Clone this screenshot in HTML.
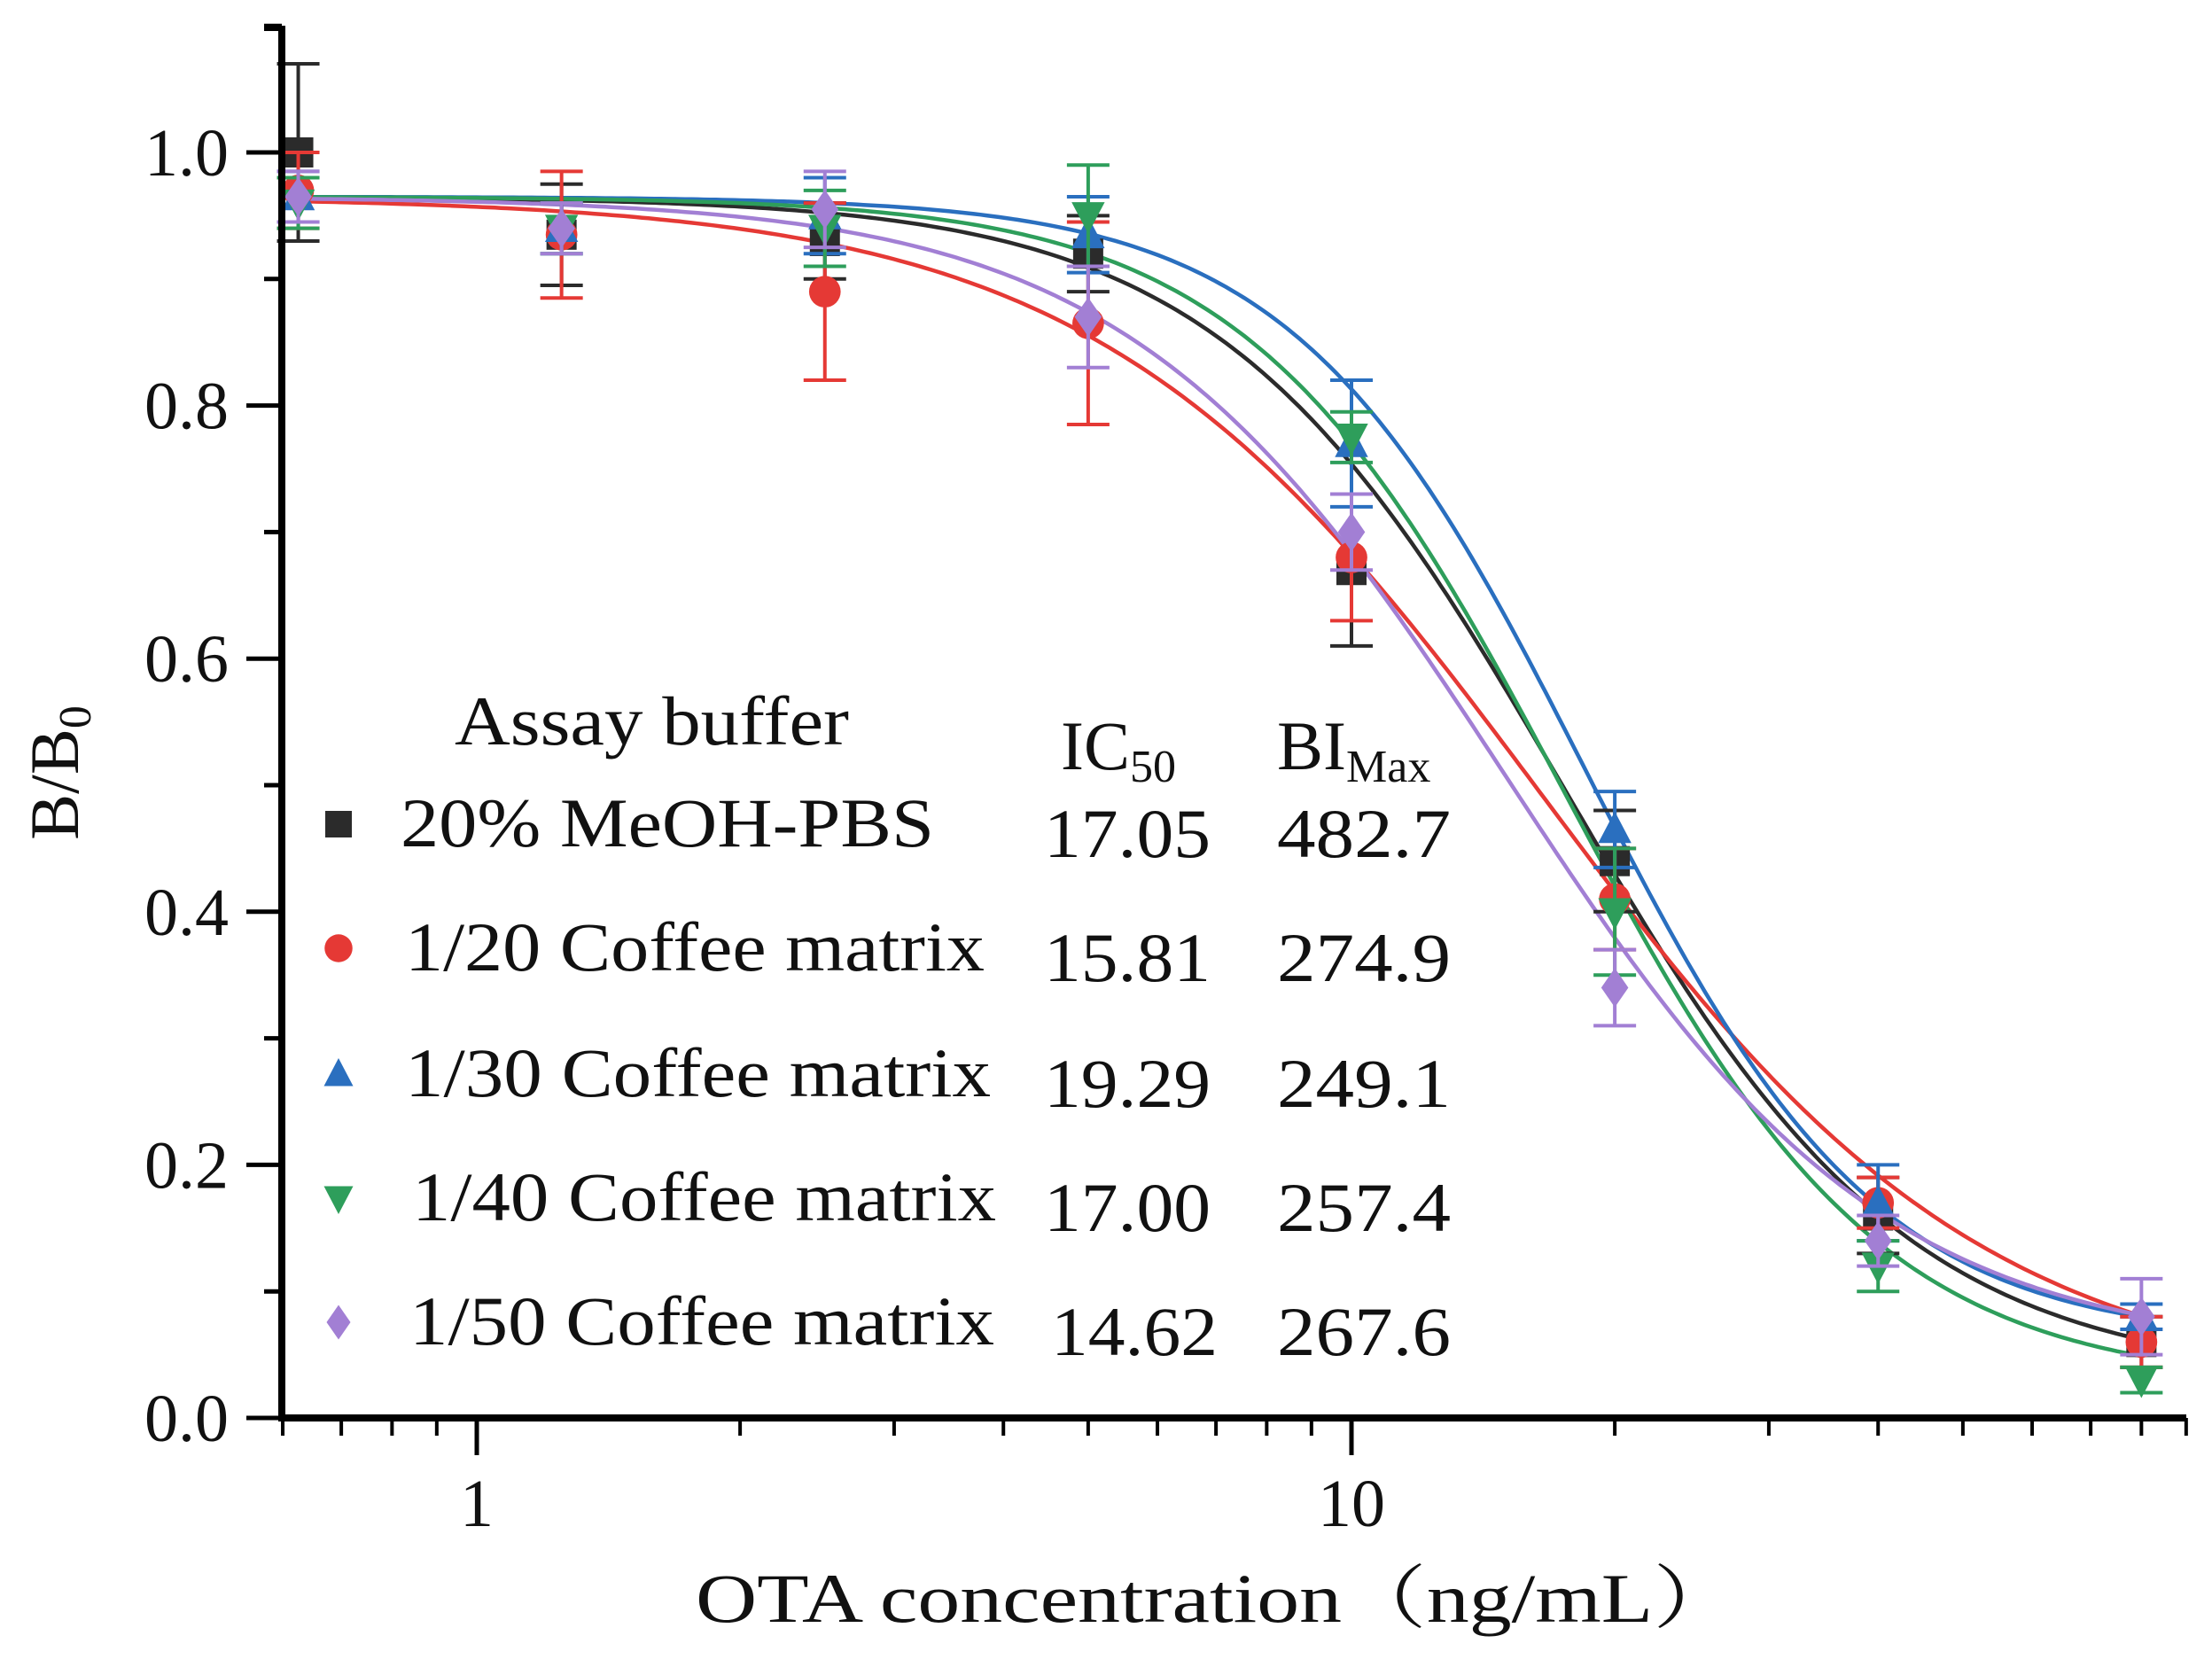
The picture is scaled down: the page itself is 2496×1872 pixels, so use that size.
<!DOCTYPE html>
<html><head><meta charset="utf-8"><style>
html,body{margin:0;padding:0;background:#fff;}
svg{display:block;font-family:"Liberation Serif","Noto Serif CJK SC",serif;}
</style></head><body>
<svg id="chart" width="2496" height="1872" viewBox="0 0 2496 1872" xmlns="http://www.w3.org/2000/svg">
<g id="curves"></g>
<g id="points"></g>
<g id="axes"></g>
<g id="legend" font-size="78" fill="#111">
  <text x="513" y="840" textLength="445" lengthAdjust="spacingAndGlyphs">Assay buffer</text>
  <text x="1197" y="868">IC<tspan font-size="52" dy="14">50</tspan></text>
  <text x="1441" y="868">BI<tspan font-size="52" dy="14">Max</tspan></text>
</g>
</svg>
<script>
const concentrations = [0.625, 1.25, 2.5, 5, 10, 20, 40, 80];
const seriesNames = ["20% MeOH-PBS", "1/20 Coffee matrix", "1/30 Coffee matrix", "1/40 Coffee matrix", "1/50 Coffee matrix"];
const ic50Labels = ["17.05", "15.81", "19.29", "17.00", "14.62"];
const biMaxLabels = ["482.7", "274.9", "249.1", "257.4", "267.6"];
const blackMeans = [1.00, 0.935, 0.93, 0.92, 0.67, 0.44, 0.16, 0.06];
const blackErr = [0.07, 0.04, 0.03, 0.03, 0.06, 0.04, 0.03, 0.02];
const redMeans = [0.97, 0.935, 0.89, 0.865, 0.68, 0.41, 0.17, 0.06];
const redErr = [0.03, 0.05, 0.07, 0.08, 0.05, 0.04, 0.02, 0.02];
const blueMeans = [0.965, 0.94, 0.95, 0.935, 0.77, 0.465, 0.17, 0.08];
const blueErr = [0.02, 0.02, 0.03, 0.03, 0.05, 0.03, 0.03, 0.01];
const greenMeans = [0.96, 0.94, 0.94, 0.95, 0.775, 0.40, 0.12, 0.03];
const greenErr = [0.02, 0.02, 0.03, 0.04, 0.02, 0.05, 0.02, 0.01];
const purpleMeans = [0.965, 0.94, 0.955, 0.87, 0.70, 0.34, 0.14, 0.08];
const purpleErr = [0.02, 0.02, 0.03, 0.04, 0.03, 0.03, 0.02, 0.03];
// 4PL fit parameters [top, bottom, ic50, hill]
const fitBlack = [0.965, 0.03, 17.5, 2.2];
const fitRed = [0.965, 0.02, 16.5, 1.7];
const fitBlue = [0.965, 0.06, 18.5, 2.6];
const fitGreen = [0.965, 0.025, 17.5, 2.4];
const fitPurple = [0.965, 0.05, 15, 2.0];
const yTicks = [0.0, 0.2, 0.4, 0.6, 0.8, 1.0];
const yTickLabels = ["0.0", "0.2", "0.4", "0.6", "0.8", "1.0"];
const xTicks = [1, 10];
const xTickLabels = ["1", "10"];

const NS = "http://www.w3.org/2000/svg";
const X0 = 318, X1 = 2467, Y0 = 1600, YTOP = 29;
const xs = v => 538 + Math.log10(v) * 987;
const ys = v => Y0 - v * 1428;
function mk(tag, attrs, parent) {
  const e = document.createElementNS(NS, tag);
  for (const k in attrs) e.setAttribute(k, attrs[k]);
  parent.appendChild(e);
  return e;
}
const series = [
  {means: blackMeans, err: blackErr, fit: fitBlack, color: "#2b2b2b", shape: "square", key: "meoh-pbs"},
  {means: redMeans, err: redErr, fit: fitRed, color: "#e53935", shape: "circle", key: "coffee-1-20"},
  {means: blueMeans, err: blueErr, fit: fitBlue, color: "#2a6fbf", shape: "up", key: "coffee-1-30"},
  {means: greenMeans, err: greenErr, fit: fitGreen, color: "#2e9e5b", shape: "down", key: "coffee-1-40"},
  {means: purpleMeans, err: purpleErr, fit: fitPurple, color: "#a27fd4", shape: "diamond", key: "coffee-1-50"}
];
function marker(shape, cx, cy, r, color, parent) {
  let e;
  if (shape === "square") e = mk("rect", {x: cx - r, y: cy - r, width: 2 * r, height: 2 * r, fill: color}, parent);
  else if (shape === "circle") e = mk("circle", {cx: cx, cy: cy, r: r * 1.05, fill: color}, parent);
  else if (shape === "up") e = mk("polygon", {points: `${cx},${cy - r * 1.2} ${cx - r * 1.1},${cy + r * 0.9} ${cx + r * 1.1},${cy + r * 0.9}`, fill: color}, parent);
  else if (shape === "down") e = mk("polygon", {points: `${cx},${cy + r * 1.2} ${cx - r * 1.1},${cy - r * 0.9} ${cx + r * 1.1},${cy - r * 0.9}`, fill: color}, parent);
  else e = mk("polygon", {points: `${cx},${cy - r * 1.3} ${cx - r * 0.9},${cy} ${cx},${cy + r * 1.3} ${cx + r * 0.9},${cy}`, fill: color}, parent);
  return e;
}
const gC = document.getElementById("curves"), gP = document.getElementById("points"), gA = document.getElementById("axes"), gL = document.getElementById("legend");
series.forEach((s, i) => {
  const [top, bot, ic, h] = s.fit;
  let d = "";
  for (let k = 0; k <= 300; k++) {
    const lv = Math.log10(0.625) + (Math.log10(80) - Math.log10(0.625)) * k / 300;
    const x = Math.pow(10, lv);
    const y = bot + (top - bot) / (1 + Math.pow(x / ic, h));
    d += (k ? "L" : "M") + xs(x).toFixed(1) + "," + ys(y).toFixed(1);
  }
  const p = mk("path", {d: d, fill: "none", stroke: s.color, "stroke-width": 4.5}, gC);
  
  
  concentrations.forEach((c, j) => {
    const cx = xs(c), m = s.means[j], e = s.err[j];
    const g = mk("g", {}, gP);
    
    
    mk("line", {x1: cx, x2: cx, y1: ys(m + e), y2: ys(m - e), stroke: s.color, "stroke-width": 4}, g);
    mk("line", {x1: cx - 24, x2: cx + 24, y1: ys(m + e), y2: ys(m + e), stroke: s.color, "stroke-width": 4}, g);
    mk("line", {x1: cx - 24, x2: cx + 24, y1: ys(m - e), y2: ys(m - e), stroke: s.color, "stroke-width": 4}, g);
    marker(s.shape, cx, ys(m), 17, s.color, g);
  });
  const by = [955, 1095, 1237, 1377, 1517][i];
  const m = marker(s.shape, 382, by - 25, 15, s.color, gL);
  
  
  const t1 = mk("text", {x: [452, 457, 457, 465, 462][i], y: by, textLength: [602, 654, 661, 659, 660][i], lengthAdjust: "spacingAndGlyphs"}, gL);
  t1.textContent = seriesNames[i];
  
  
  const t2 = mk("text", {x: i === 4 ? 1186 : 1178, y: by + 12, textLength: 188, lengthAdjust: "spacingAndGlyphs"}, gL);
  t2.textContent = ic50Labels[i];
  
  
  const t3 = mk("text", {x: 1441, y: by + 12, textLength: 196, lengthAdjust: "spacingAndGlyphs"}, gL);
  t3.textContent = biMaxLabels[i];
  
  
});
const ya = mk("line", {x1: X0, x2: X0, y1: YTOP, y2: Y0 + 4, stroke: "#000", "stroke-width": 8}, gA);


mk("line", {x1: X0 - 20, x2: X0 + 2, y1: YTOP + 3, y2: YTOP + 3, stroke: "#000", "stroke-width": 6}, gA);
const xa = mk("line", {x1: X0 - 4, x2: X1, y1: Y0, y2: Y0, stroke: "#000", "stroke-width": 8}, gA);


for (let v = 0.1; v < 1.1; v += 0.2) mk("line", {x1: X0 - 20, x2: X0, y1: ys(v), y2: ys(v), stroke: "#000", "stroke-width": 5}, gA);
yTicks.forEach((v, i) => {
  mk("line", {x1: X0 - 40, x2: X0, y1: ys(v), y2: ys(v), stroke: "#000", "stroke-width": 5}, gA);
  const t = mk("text", {x: 258, y: ys(v) + 26, "text-anchor": "end", "font-size": 76, fill: "#111"}, gA);
  t.textContent = yTickLabels[i];
  
  
});
[0.6,0.7,0.8,0.9,2,3,4,5,6,7,8,9,20,30,40,50,60,70,80,90].forEach(v => {
  const x = xs(v);
  if (x > X0 && x <= X1) mk("line", {x1: x, x2: x, y1: Y0, y2: Y0 + 20, stroke: "#000", "stroke-width": 4}, gA);
});
xTicks.forEach((v, i) => {
  mk("line", {x1: xs(v), x2: xs(v), y1: Y0, y2: Y0 + 42, stroke: "#000", "stroke-width": 5}, gA);
  const t = mk("text", {x: xs(v), y: 1722, "text-anchor": "middle", "font-size": 76, fill: "#111"}, gA);
  t.textContent = xTickLabels[i];
  
  
});
const xt = mk("text", {x: 785, y: 1830, "font-size": 78, fill: "#111", textLength: 1176, lengthAdjust: "spacingAndGlyphs"}, gA);
xt.textContent = "OTA concentration（ng/mL）";


const yt = mk("text", {x: 0, y: 0, "font-size": 78, fill: "#111", "text-anchor": "middle", transform: "translate(88,872) rotate(-90)"}, gA);
yt.innerHTML = 'B/B<tspan font-size="52" dy="14">0</tspan>';


</script>
</body></html>
